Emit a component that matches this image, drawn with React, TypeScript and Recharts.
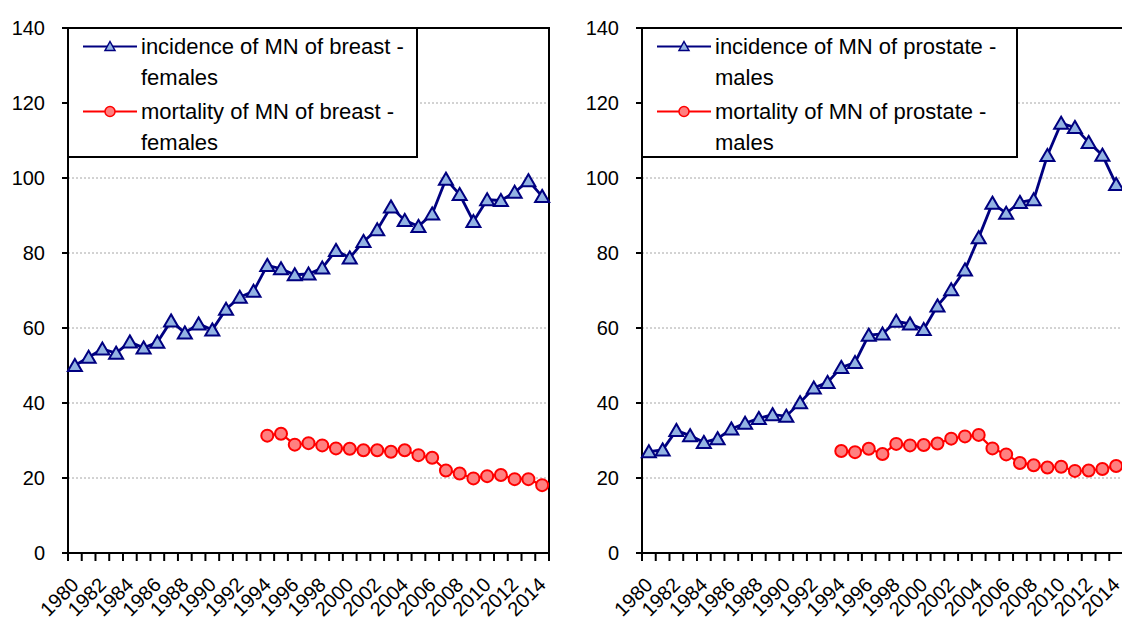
import React from 'react'
import { LineChart, Line, XAxis, YAxis, CartesianGrid, ReferenceArea, Legend } from 'recharts'

const YEARS = [
  1980, 1981, 1982, 1983, 1984, 1985, 1986, 1987, 1988, 1989, 1990, 1991, 1992, 1993, 1994, 1995, 1996, 1997,
  1998, 1999, 2000, 2001, 2002, 2003, 2004, 2005, 2006, 2007, 2008, 2009, 2010, 2011, 2012, 2013, 2014,
]
const YEAR_LABELS = [1980, 1982, 1984, 1986, 1988, 1990, 1992, 1994, 1996, 1998, 2000, 2002, 2004, 2006, 2008, 2010, 2012, 2014]
const Y_TICKS = [0, 20, 40, 60, 80, 100, 120, 140]

// mortality series start in 1994
const MORTALITY_START = 1994

const breastIncidence = [
  50.0, 52.2, 54.4, 53.3, 56.3, 54.7, 56.2, 61.9, 58.7, 61.1, 59.5, 65.0, 68.2, 69.8, 76.7, 75.8, 74.2, 74.4,
  76.0, 80.7, 78.7, 83.1, 86.2, 92.3, 88.7, 87.1, 90.4, 99.7, 95.6, 88.4, 94.2, 94.0, 96.2, 99.3, 95.1,
]
const breastMortality = [
  31.3, 31.8, 28.9, 29.3, 28.7, 27.9, 27.8, 27.4, 27.4, 27.0, 27.4, 26.1, 25.4, 22.0, 21.2, 19.9, 20.5, 20.8, 19.7,
  19.7, 18.1,
]
const prostateIncidence = [
  27.0, 27.5, 32.7, 31.3, 29.5, 30.5, 33.1, 34.6, 35.9, 36.9, 36.5, 40.1, 44.0, 45.5, 49.5, 50.8, 58.1, 58.4,
  61.8, 61.1, 59.6, 65.9, 70.2, 75.5, 84.1, 93.3, 90.6, 93.5, 94.2, 106.0, 114.6, 113.5, 109.5, 106.1, 98.3,
]
const prostateMortality = [
  27.2, 26.9, 27.8, 26.4, 29.1, 28.7, 28.8, 29.2, 30.5, 31.1, 31.5, 27.9, 26.3, 24.0, 23.4, 22.8, 23.0, 21.9, 22.0,
  22.4, 23.2,
]

const FONT = '"Liberation Sans", Arial, sans-serif'
const NAVY = '#000080'
const TRI_FILL = '#93b3e3'
const RED = '#ff0000'
const CIRCLE_FILL = '#ff8080'

function buildRows(incidence: number[], mortality: number[]) {
  return YEARS.map((year, i) => ({
    year,
    incidence: incidence[i],
    mortality: year >= MORTALITY_START ? mortality[year - MORTALITY_START] : null,
  }))
}

const boundaryTicks = [...YEARS.map((y) => y - 0.5), YEARS[YEARS.length - 1] + 0.5]
const xTicks = [...boundaryTicks, ...YEAR_LABELS].sort((a, b) => a - b)

function Triangle(props: any) {
  const { cx, cy, index } = props
  if (cx == null || cy == null) return <g key={`t${index}`} />
  return (
    <polygon
      key={`t${index}`}
      points={`${cx},${cy - 6.5} ${cx + 7},${cy + 5.5} ${cx - 7},${cy + 5.5}`}
      fill={TRI_FILL}
      stroke={NAVY}
      strokeWidth={2}
    />
  )
}

function Circle(props: any) {
  const { cx, cy, index } = props
  if (cx == null || cy == null) return <g key={`c${index}`} />
  return <circle key={`c${index}`} cx={cx} cy={cy} r={6} fill={CIRCLE_FILL} stroke={RED} strokeWidth={2} />
}

function YearTick({ x, y, payload }: any) {
  const v = payload.value
  if (v % 1 !== 0) {
    return <line x1={x} x2={x} y1={y} y2={y + 8} stroke="#000" strokeWidth={2} />
  }
  const ax = x + 5
  const ay = y + 33
  return (
    <text x={ax} y={ay} textAnchor="end" transform={`rotate(-45, ${ax}, ${ay})`} fontSize={20} fontFamily={FONT} fill="#000">
      {v}
    </text>
  )
}

function LegendBox({ items, width }: { items: { label: string; kind: 'tri' | 'circle' }[]; width: number }) {
  return (
    <div
      style={{
        boxSizing: 'border-box',
        width,
        height: 131,
        border: '2px solid #000',
        background: '#fff',
        paddingTop: 1.5,
        fontFamily: FONT,
        fontSize: 22,
        lineHeight: '31px',
        color: '#000',
      }}
    >
      {items.map((it, i) => (
        <div key={i} style={{ display: 'flex', alignItems: 'flex-start', marginTop: i === 0 ? 0 : 3 }}>
          <svg width={56} height={31} style={{ marginLeft: 14, flex: 'none', display: 'block' }}>
            <line x1={0} x2={54} y1={15.5} y2={15.5} stroke={it.kind === 'tri' ? NAVY : RED} strokeWidth={2} />
            {it.kind === 'tri' ? (
              <polygon points="27,10.5 32,19.5 22,19.5" fill={TRI_FILL} stroke={NAVY} strokeWidth={1.5} />
            ) : (
              <circle cx={27} cy={15.5} r={5} fill={CIRCLE_FILL} stroke={RED} strokeWidth={1.5} />
            )}
          </svg>
          <div style={{ marginLeft: 2, width: width - 80 }}>{it.label}</div>
        </div>
      ))}
    </div>
  )
}

interface PanelProps {
  incidence: number[]
  mortality: number[]
  incLabel: string
  mortLabel: string
  width: number
  marginLeft: number
  legendWidth: number
}

function Panel({ incidence, mortality, incLabel, mortLabel, width, marginLeft, legendWidth }: PanelProps) {
  const rows = buildRows(incidence, mortality)
  return (
    <LineChart width={width} height={619} data={rows} margin={{ top: 28, right: 12, left: marginLeft, bottom: 0 }}>
      <CartesianGrid vertical={false} stroke="#a6a6a6" strokeDasharray="2 2" />
      <XAxis
        dataKey="year"
        type="number"
        domain={[1979.5, 2014.5]}
        ticks={xTicks}
        interval={0}
        height={66}
        tickSize={0}
        tickMargin={0}
        tickLine={false}
        axisLine={{ stroke: '#000', strokeWidth: 2 }}
        tick={<YearTick />}
      />
      <YAxis
        domain={[0, 140]}
        ticks={Y_TICKS}
        width={60}
        interval={0}
        tickSize={6}
        tickMargin={17}
        axisLine={{ stroke: '#000', strokeWidth: 2 }}
        tickLine={{ stroke: '#000', strokeWidth: 2 }}
        tick={{ fill: '#000', fontSize: 20, fontFamily: FONT }}
      />
      <ReferenceArea x1={1979.5} x2={2014.5} y1={0} y2={140} fill="none" stroke="#000" strokeWidth={2} ifOverflow="visible" />
      <Legend
        layout="vertical"
        verticalAlign="middle"
        align="center"
        wrapperStyle={{ top: 27, left: marginLeft + 59, width: legendWidth, height: 131 }}
        content={() => (
          <LegendBox
            width={legendWidth}
            items={[
              { label: incLabel, kind: 'tri' },
              { label: mortLabel, kind: 'circle' },
            ]}
          />
        )}
      />
      <Line dataKey="incidence" stroke={NAVY} strokeWidth={2.8} dot={Triangle} isAnimationActive={false} legendType="none" />
      <Line dataKey="mortality" stroke={RED} strokeWidth={2.2} dot={Circle} isAnimationActive={false} legendType="none" />
    </LineChart>
  )
}

export default function App() {
  return (
    <div style={{ position: 'absolute', left: 0, top: 0, width: 1122, height: 619, overflow: 'hidden', background: '#fff' }}>
      <div style={{ position: 'absolute', left: 0, top: 0 }}>
        <Panel
          incidence={breastIncidence}
          mortality={breastMortality}
          incLabel="incidence of MN of breast - females"
          mortLabel="mortality of MN of breast - females"
          width={561}
          marginLeft={8}
          legendWidth={351}
        />
      </div>
      <div style={{ position: 'absolute', left: 561, top: 0 }}>
        <Panel
          incidence={prostateIncidence}
          mortality={prostateMortality}
          incLabel="incidence of MN of prostate - males"
          mortLabel="mortality of MN of prostate - males"
          width={574}
          marginLeft={21}
          legendWidth={377}
        />
      </div>
    </div>
  )
}
